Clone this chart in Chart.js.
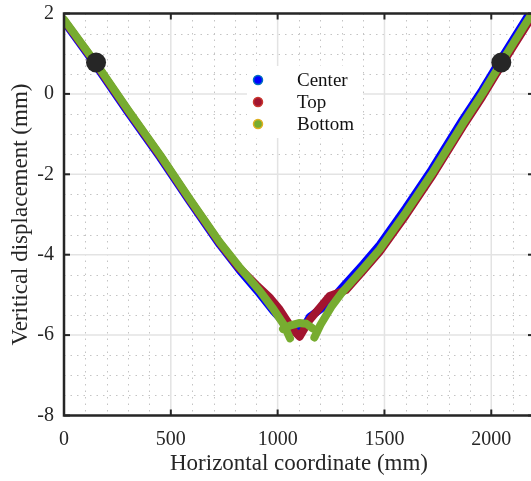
<!DOCTYPE html>
<html>
<head>
<meta charset="utf-8">
<script src="https://cdn.jsdelivr.net/npm/chart.js@4/dist/chart.umd.min.js"></script>
<style>
  html, body { margin: 0; padding: 0; background: #fff; overflow: hidden; }
  #wrap { width: 540px; height: 481px; }
</style>
</head>
<body>
<div id="wrap"><canvas id="myChart" width="540" height="481"></canvas></div>
<script>
// measured profiles, x in mm, y in mm (null splits a line)
var centerX = [0, 150, 300, 450, 589, 729, 820, 916, 980, 1050, 1110, 1150, 1240, 1300, 1400, 1477, 1600, 1720, 1866, 1958, 2047, 2200];
var centerY = [1.80, 0.70, -0.46, -1.58, -2.68, -3.75, -4.37, -4.97, -5.40, -5.80, -5.92, -5.55, -5.20, -4.83, -4.24, -3.76, -2.84, -1.89, -0.64, 0.10, 0.88, 2.18];

var topX = [0, 150, 300, 450, 589, 729, 820, 900, 960, 1009, 1070, 1103, 1150, 1243, 1320, 1400, 1477, 1600, 1720, 1866, 1958, 2047, 2200];
var topY = [1.83, 0.74, -0.42, -1.54, -2.64, -3.71, -4.33, -4.75, -5.05, -5.36, -5.86, -6.04, -5.62, -5.03, -4.88, -4.40, -3.93, -3.02, -2.07, -0.82, -0.07, 0.71, 2.00];

var bottomX = [0, 150, 300, 450, 589, 729, 820, 916, 980, 1030, 1058, null, 1025, 1060, 1100, 1135, 1163, null, 1172, 1200, 1251, 1300, 1400, 1477, 1600, 1720, 1866, 1958, 2047, 2200];
var bottomY = [1.85, 0.76, -0.40, -1.52, -2.62, -3.69, -4.30, -4.90, -5.35, -5.75, -6.08, null, -5.85, -5.76, -5.70, -5.72, -5.83, null, -6.06, -5.75, -5.30, -4.95, -4.35, -3.87, -2.95, -2.00, -0.75, 0.00, 0.78, 2.08];

var supportX = [150, 2047];
var supportY = [0.78, 0.78];

var xTicks = [0, 500, 1000, 1500, 2000];
var yTicks = [-8, -6, -4, -2, 0, 2];

function pts(xs, ys) {
  return xs.map(function(x, i) { return { x: x === null ? NaN : x, y: ys[i] }; });
}

var serif = '"Liberation Serif", "Times New Roman", serif';

// grid, box and inward ticks
var frame = {
  id: 'frame',
  beforeDatasetsDraw: function(chart) {
    var c = chart.ctx, a = chart.chartArea, xs = chart.scales.x, ys = chart.scales.y;
    c.save();
    c.strokeStyle = '#c4c4c4';
    c.lineWidth = 1;
    c.setLineDash([1.5, 5]);
    for (var v = 100; v < 2200; v += 100) {
      if (v % 500 === 0) continue;
      var px = Math.round(xs.getPixelForValue(v)) + 0.5;
      c.beginPath(); c.moveTo(px, a.top); c.lineTo(px, a.bottom); c.stroke();
    }
    for (var w = -7.5; w < 2; w += 0.5) {
      if (w % 2 === 0) continue;
      var py = Math.round(ys.getPixelForValue(w)) + 0.5;
      c.beginPath(); c.moveTo(a.left, py); c.lineTo(a.right, py); c.stroke();
    }
    c.setLineDash([]);
    c.strokeStyle = '#e3e3e3';
    c.lineWidth = 1.5;
    xTicks.forEach(function(v) {
      var px = xs.getPixelForValue(v);
      c.beginPath(); c.moveTo(px, a.top); c.lineTo(px, a.bottom); c.stroke();
    });
    yTicks.forEach(function(v) {
      var py = ys.getPixelForValue(v);
      c.beginPath(); c.moveTo(a.left, py); c.lineTo(a.right, py); c.stroke();
    });
    c.restore();
  },
  afterDatasetsDraw: function(chart) {
    var c = chart.ctx, a = chart.chartArea, xs = chart.scales.x, ys = chart.scales.y;
    c.save();
    c.strokeStyle = '#262626';
    c.lineWidth = 2;
    xTicks.forEach(function(v) {
      var px = xs.getPixelForValue(v);
      c.beginPath(); c.moveTo(px, a.bottom); c.lineTo(px, a.bottom - 6); c.stroke();
      c.beginPath(); c.moveTo(px, a.top); c.lineTo(px, a.top + 6); c.stroke();
    });
    yTicks.forEach(function(v) {
      var py = ys.getPixelForValue(v);
      c.beginPath(); c.moveTo(a.left, py); c.lineTo(a.left + 6, py); c.stroke();
      c.beginPath(); c.moveTo(a.right, py); c.lineTo(a.right - 6, py); c.stroke();
    });
    c.lineWidth = 2.5;
    c.beginPath();
    c.moveTo(a.left, a.top); c.lineTo(a.right, a.top); c.lineTo(a.right, a.bottom);
    c.lineTo(a.left, a.bottom); c.closePath(); c.stroke();

    // legend
    var items = chart.data.datasets.filter(function(d) { return d.legendFill; });
    c.fillStyle = '#fff';
    c.fillRect(247, 66, 116, 72);
    c.font = '19px ' + serif;
    c.textBaseline = 'middle';
    items.forEach(function(d, i) {
      var y = 80 + i * 22;
      c.beginPath();
      c.arc(258, y, 4.5, 0, Math.PI * 2);
      c.fillStyle = d.legendFill;
      c.fill();
      c.lineWidth = 1.5;
      c.strokeStyle = d.legendEdge;
      c.stroke();
      c.fillStyle = '#111';
      c.fillText(d.label, 297, y + 1);
    });
    c.restore();
  }
};

var ctx = document.getElementById('myChart').getContext('2d');

var lineBase = {
  showLine: true,
  spanGaps: false,
  pointRadius: 0,
  borderWidth: 8,
  borderCapStyle: 'round',
  borderJoinStyle: 'round',
  tension: 0
};

var myChart = new Chart(ctx, {
  type: 'scatter',
  data: {
    datasets: [
      Object.assign({}, lineBase, {
        label: 'Center', data: pts(centerX, centerY), order: 3,
        borderColor: '#0000ff', legendFill: '#0000ff', legendEdge: '#0072bd'
      }),
      Object.assign({}, lineBase, {
        label: 'Top', data: pts(topX, topY), order: 2,
        borderColor: '#a2142f', legendFill: '#a2142f', legendEdge: '#c9382f'
      }),
      Object.assign({}, lineBase, {
        label: 'Bottom', data: pts(bottomX, bottomY), order: 1,
        borderColor: '#77ac30', legendFill: '#77ac30', legendEdge: '#e0b020'
      }),
      {
        label: 'Supports', data: pts(supportX, supportY), order: 0,
        pointRadius: 10, pointBackgroundColor: '#262626', pointBorderWidth: 0,
        showLine: false
      }
    ]
  },
  options: {
    responsive: false,
    animation: false,
    layout: { autoPadding: false, padding: { top: 13.5, right: 6, left: 0, bottom: 0 } },
    plugins: { legend: { display: false }, tooltip: { enabled: false } },
    scales: {
      x: {
        type: 'linear', min: 0, max: 2200,
        afterFit: function(s) { s.height = 65.5; s.paddingLeft = 0; s.paddingRight = 0; },
        afterBuildTicks: function(s) { s.ticks = xTicks.map(function(v) { return { value: v }; }); },
        grid: { display: false, drawTicks: false },
        border: { display: false },
        ticks: {
          padding: 12, callback: function(v) { return String(v); },
          font: { family: serif, size: 20 }, color: '#262626',
          maxRotation: 0, autoSkip: false
        },
        title: {
          display: true, text: 'Horizontal coordinate (mm)',
          font: { family: serif, size: 23 }, color: '#262626',
          padding: { top: 0, bottom: 3 }
        }
      },
      y: {
        type: 'linear', min: -8, max: 2,
        afterFit: function(s) { s.width = 64; s.paddingTop = 0; s.paddingBottom = 0; },
        afterBuildTicks: function(s) { s.ticks = yTicks.map(function(v) { return { value: v }; }); },
        grid: { display: false, drawTicks: false },
        border: { display: false },
        ticks: {
          padding: 10, callback: function(v) { return String(v); },
          font: { family: serif, size: 20 }, color: '#262626'
        },
        title: {
          display: true, text: 'Veritical displacement (mm)',
          font: { family: serif, size: 23 }, color: '#262626',
          padding: { top: 7, bottom: 0 }
        }
      }
    }
  },
  plugins: [frame]
});
</script>
</body>
</html>
